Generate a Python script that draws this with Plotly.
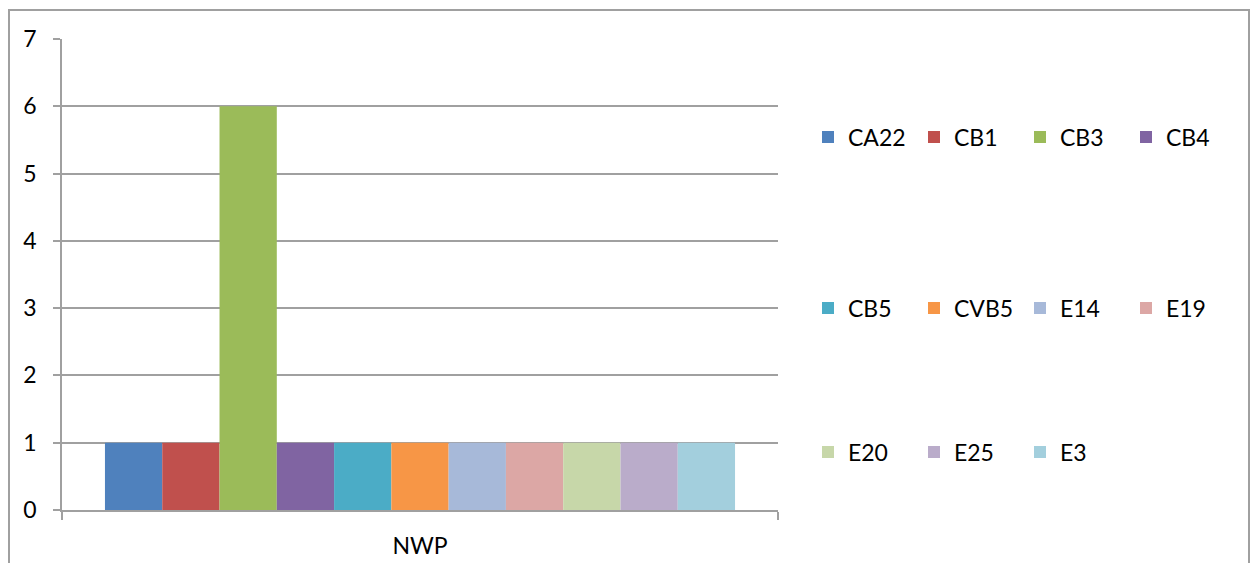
import plotly.graph_objects as go

categories = ["NWP"]
series_names = ["CA22", "CB1", "CB3", "CB4", "CB5", "CVB5", "E14", "E19", "E20", "E25", "E3"]
series_values = [1, 1, 6, 1, 1, 1, 1, 1, 1, 1, 1]
series_colors = ["#4F81BD", "#C0504D", "#9BBB59", "#8064A2", "#4BACC6", "#F79646",
                 "#A7B9D9", "#DCA7A5", "#C7D7A9", "#BAACCA", "#A3CFDD"]
y_ticks = [0, 1, 2, 3, 4, 5, 6, 7]

FONT = "Lato"
FS = 23

OFF = 8  # page body margin
W, H = 1258 - 2 * OFF, 571 - 2 * OFF
L, R, T, B = 62 - OFF, 778 - OFF, 39 - OFF, 510 - OFF
pw, ph = R - L, B - T

def px2x(px):
    return (px - OFF - L) / pw

def py2y(py):
    return (B - (py - OFF)) / ph

fig = go.Figure()
legend_ids = ["legend", "legend2", "legend3"]
for i, (name, val, col) in enumerate(zip(series_names, series_values, series_colors)):
    fig.add_trace(go.Bar(
        x=categories, y=[val], name=name, marker=dict(color=col, line=dict(width=0)),
        legend=legend_ids[i // 4],
    ))

row_y = [137, 308, 452]
leg_common = dict(orientation="h", font=dict(family=FONT, size=FS, color="black"),
                  entrywidth=61, entrywidthmode="pixels", xanchor="left", yanchor="middle",
                  bgcolor="rgba(0,0,0,0)", itemclick=False, itemdoubleclick=False)
legends = {}
for k, lid in enumerate(legend_ids):
    legends[lid] = dict(x=px2x(808), y=py2y(row_y[k]), traceorder="normal", **leg_common)

fig.update_layout(
    width=W, height=H,
    margin=dict(l=L, r=W - R, t=T, b=H - B, pad=0, autoexpand=False),
    paper_bgcolor="white", plot_bgcolor="white",
    barmode="group", bargap=0.12, bargroupgap=0,
    font=dict(family=FONT, size=FS, color="black"),
    showlegend=True,
    xaxis=dict(type="category", showgrid=False, showline=True, linecolor="#A0A0A0", linewidth=1.5,
               ticks="outside", ticklen=8, tickcolor="#A0A0A0", tickwidth=1.5,
               tickson="boundaries", ticklabelstandoff=15, fixedrange=True, automargin=False),
    yaxis=dict(range=[0, 7], tickvals=y_ticks, showgrid=True, gridcolor="#A0A0A0", gridwidth=1.5,
               showline=True, linecolor="#A0A0A0", linewidth=1.5, zeroline=False,
               ticks="outside", ticklen=7, tickcolor="#A0A0A0", tickwidth=1.5,
               ticklabelstandoff=12, fixedrange=True, automargin=False),
    shapes=[dict(type="rect", xref="paper", yref="paper",
                 x0=px2x(9), x1=px2x(1249), y0=py2y(620), y1=py2y(10),
                 line=dict(color="#A0A0A0", width=2), fillcolor="rgba(0,0,0,0)", layer="below")],
    **legends,
)

fig.write_html("out.html")
